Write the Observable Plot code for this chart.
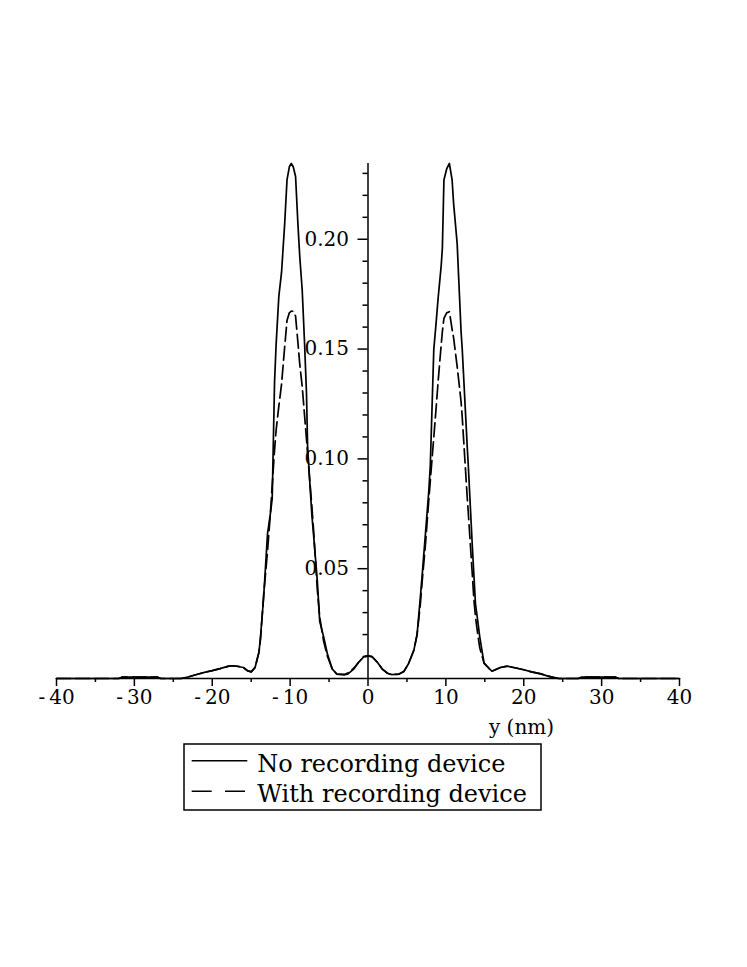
<!DOCTYPE html>
<html>
<head>
<meta charset="utf-8">
<script src="https://cdn.jsdelivr.net/npm/d3@7"></script>
<script src="https://cdn.jsdelivr.net/npm/@observablehq/plot@0.6"></script>
<style>
  html, body { margin: 0; padding: 0; background: #fff; }
  #wrap { position: relative; width: 747px; height: 967px; }
  #overlay { position: absolute; left: 0; top: 0; pointer-events: none; }
</style>
</head>
<body>
<div id="wrap"></div>
<script>
// Position along y (nm)
const positions = [
  -40, -32, -31.6, -27, -26.6, -24, -23, -22, -21, -20, -19, -18, -17.5, -17, -16, -15.5, -15, -14.5,
  -14, -13.8, -13.4, -12.9, -12.5, -12.3, -12.0, -11.8, -11.45, -11.1, -10.7, -10.4, -10.1, -9.85, -9.6,
  -9.3, -9.0, -8.76, -8.45, -8.15, -7.9, -7.75, -7.2, -7.0, -6.5, -6.2, -5.7, -5.2, -4.6, -4.0, -3.0,
  -2.6, -1.8, -1.2, -0.5, 0, 0.5, 1.2, 1.8, 2.5, 3.0, 4.0, 4.6, 5.2, 5.9, 6.3, 6.7, 7.0, 7.4, 7.8,
  8.0, 8.45, 8.7, 9.0, 9.4, 9.55, 9.75, 10.1, 10.45, 10.8, 11.0, 11.45, 11.8, 11.95, 12.1, 12.75,
  12.85, 13.4, 13.6, 13.8, 14.1, 14.35, 14.9, 15.9, 17, 17.9, 19, 20, 21, 22.2, 23, 23.8, 24.5, 27,
  27.4, 31.8, 32.2, 40
];
// No recording device (solid)
const noDevice = [
  0, 0, 0.0006, 0.0006, 0, 0, 0.0008, 0.0018, 0.0028, 0.0036, 0.0045, 0.0055, 0.0058, 0.0057, 0.005, 0.0036, 0.003, 0.005,
  0.012, 0.019, 0.037, 0.066, 0.076, 0.082, 0.135, 0.152, 0.174, 0.185, 0.207, 0.227, 0.233, 0.2345, 0.233,
  0.2286, 0.207, 0.192, 0.177, 0.153, 0.130, 0.105, 0.074, 0.066, 0.044, 0.026, 0.019, 0.011, 0.0044, 0.002, 0.0018,
  0.002, 0.0044, 0.0074, 0.0100, 0.0103, 0.0100, 0.0074, 0.0044, 0.0024, 0.0018, 0.002, 0.0032, 0.0067, 0.013, 0.020, 0.036, 0.049, 0.067, 0.085,
  0.097, 0.150, 0.160, 0.173, 0.188, 0.196, 0.227, 0.232, 0.2345, 0.227, 0.216, 0.198, 0.170, 0.158, 0.150, 0.105,
  0.099, 0.060, 0.047, 0.034, 0.026, 0.019, 0.007, 0.0033, 0.005, 0.0056, 0.0048, 0.004, 0.003, 0.0021, 0.0012, 0.0005, 0, 0,
  0.0006, 0.0006, 0, 0
];
// With recording device (dashed)
const withDevice = [
  0, 0, 0.0006, 0.0006, 0, 0, 0.0008, 0.0018, 0.0028, 0.0036, 0.0045, 0.0055, 0.0058, 0.0057, 0.005, 0.0036, 0.003, 0.005,
  0.012, 0.018, 0.038, 0.058, 0.077, 0.088, 0.104, 0.113, 0.124, 0.134, 0.151, 0.163, 0.1665, 0.1673, 0.1672,
  0.165, 0.153, 0.143, 0.133, 0.120, 0.109, 0.102, 0.078, 0.068, 0.040, 0.028, 0.017, 0.010, 0.0044, 0.002, 0.0018,
  0.0025, 0.0048, 0.0074, 0.0100, 0.0103, 0.0100, 0.0074, 0.0044, 0.0024, 0.0018, 0.002, 0.0032, 0.0067, 0.013, 0.020, 0.033, 0.046, 0.062, 0.081,
  0.090, 0.110, 0.121, 0.135, 0.152, 0.158, 0.164, 0.1665, 0.167, 0.159, 0.155, 0.142, 0.131, 0.126, 0.119, 0.082,
  0.077, 0.047, 0.036, 0.028, 0.020, 0.014, 0.007, 0.0033, 0.005, 0.0056, 0.0048, 0.004, 0.003, 0.0021, 0.0012, 0.0005, 0, 0,
  0.0006, 0.0006, 0, 0
];
const xMajorTicks = [-40, -30, -20, -10, 0, 10, 20, 30, 40];
const xMinorTicks = [-35, -25, -15, -5, 5, 15, 25, 35];
const yMajorTicks = [0.05, 0.10, 0.15, 0.20];
const yMinorTicks = [0.01, 0.02, 0.03, 0.04, 0.06, 0.07, 0.08, 0.09, 0.11, 0.12, 0.13, 0.14, 0.16, 0.17, 0.18, 0.19, 0.21, 0.22, 0.23];
const xLabel = "y (nm)";
const seriesNames = ["No recording device", "With recording device"];
const yMax = 0.2345;

const W = 747, H = 967, ML = 56, MR = 68, MT = 163, MB = 289;
const dxAxis = (W - ML - MR) / 2; // shift y axis to x = 0

const rowsA = positions.map((x, i) => ({x, y: noDevice[i]}));
const rowsB = positions.map((x, i) => ({x, y: withDevice[i]}));

const chart = Plot.plot({
  width: W, height: H,
  marginLeft: ML, marginRight: MR, marginTop: MT, marginBottom: MB,
  x: {domain: [-40, 40]},
  y: {domain: [0, yMax]},
  style: {fontFamily: "DejaVu Serif", fontSize: "20px", color: "black", background: "white"},
  marks: [
    Plot.ruleY([0], {stroke: "black", strokeWidth: 1.5}),
    Plot.ruleX([0], {x: d => d, y1: () => 0, y2: () => yMax, stroke: "black", strokeWidth: 1.5}),
    Plot.axisX({ticks: xMajorTicks, tickSize: 8, tickPadding: 3, strokeWidth: 1.5,
      tickFormat: d => d < 0 ? "-\u2009" + Math.abs(d) : String(d), label: null}),
    Plot.axisX({ticks: xMinorTicks, tickSize: 4, strokeWidth: 1.5, tickFormat: () => "", label: null}),
    Plot.axisY({ticks: yMajorTicks, tickSize: 10, tickPadding: 9, dx: dxAxis, strokeWidth: 1.5,
      tickFormat: d3.format(".2f"), label: null}),
    Plot.axisY({ticks: yMinorTicks, tickSize: 5, dx: dxAxis, strokeWidth: 1.5, tickFormat: () => "", label: null}),
    Plot.line(rowsA, {x: "x", y: "y", stroke: "black", strokeWidth: 1.7, strokeLinejoin: "round"}),
    Plot.line(rowsB, {x: "x", y: "y", stroke: "black", strokeWidth: 1.7, strokeLinejoin: "round", strokeDasharray: "14,5"})
  ]
});

const wrap = document.getElementById("wrap");
wrap.appendChild(chart);

// Overlay: axis label and legend
const ov = d3.select(wrap).append("svg")
  .attr("id", "overlay").attr("width", W).attr("height", H)
  .style("font-family", "DejaVu Serif");

ov.append("text").attr("x", 521.5).attr("y", 734).attr("text-anchor", "middle")
  .style("font-size", "20px").attr("fill", "black").text(xLabel);

const lg = ov.append("g").attr("transform", "translate(184,744)");
lg.append("rect").attr("x", 0).attr("y", 0).attr("width", 357).attr("height", 66)
  .attr("fill", "none").attr("stroke", "black").attr("stroke-width", 1.5);
lg.append("line").attr("x1", 7.7).attr("x2", 63.3).attr("y1", 16.7).attr("y2", 16.7)
  .attr("stroke", "black").attr("stroke-width", 1.6);
lg.append("line").attr("x1", 7.7).attr("x2", 63.3).attr("y1", 47.2).attr("y2", 47.2)
  .attr("stroke", "black").attr("stroke-width", 1.6).attr("stroke-dasharray", "20,13.3");
lg.append("text").attr("x", 73.3).attr("y", 28).style("font-size", "24px").attr("fill", "black").text(seriesNames[0]);
lg.append("text").attr("x", 73.3).attr("y", 58).style("font-size", "24px").attr("fill", "black").text(seriesNames[1]);
</script>
</body>
</html>
